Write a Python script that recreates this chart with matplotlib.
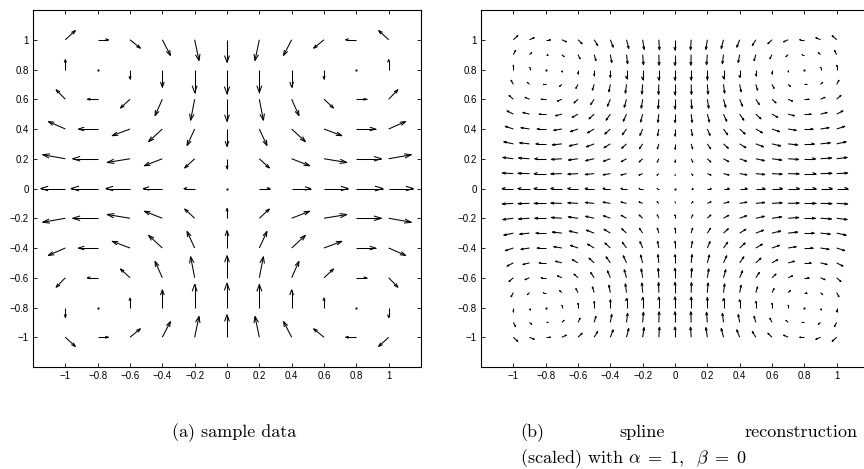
import numpy as np
import matplotlib
matplotlib.use('Agg')
import matplotlib.pyplot as plt
from matplotlib.collections import LineCollection

# sample grid (panel a) and reconstruction grid (panel b)
sample_pos = [-1.0, -0.8, -0.6, -0.4, -0.2, 0.0, 0.2, 0.4, 0.6, 0.8, 1.0]
recon_pos = [-1.0, -0.9, -0.8, -0.7, -0.6, -0.5, -0.4, -0.3, -0.2, -0.1, 0.0,
             0.1, 0.2, 0.3, 0.4, 0.5, 0.6, 0.7, 0.8, 0.9, 1.0]

# horizontal component in the quadrant x>=0, y>=0 (rows: y = 0 .. 1, cols: x = 0 .. 1),
# as drawn (already scaled, data units). The rest follows from the field's symmetry:
# u odd in x / even in y, v(x, y) = -u(y, x)
sample_u_quad = [
    [0, 0.066, 0.117, 0.149, 0.164, 0.152],
    [0, 0.062, 0.111, 0.141, 0.155, 0.140],
    [0, 0.047, 0.085, 0.110, 0.119, 0.105],
    [0, 0.025, 0.045, 0.059, 0.064, 0.057],
    [0, 0.000, 0.000, 0.000, 0.000, 0.000],
    [0, -0.027, -0.050, -0.064, -0.067, -0.062],
]

recon_u_quad = [
    [0, .011, .023, .035, .046, .056, .064, .069, .072, .072, .069],
    [0, .011, .023, .034, .045, .055, .063, .068, .071, .071, .068],
    [0, .010, .022, .033, .043, .053, .060, .065, .068, .068, .065],
    [0, .009, .020, .030, .039, .048, .054, .059, .061, .061, .059],
    [0, .008, .017, .026, .034, .041, .047, .050, .053, .053, .050],
    [0, .006, .013, .020, .026, .032, .036, .039, .041, .041, .039],
    [0, .004, .009, .014, .018, .022, .025, .027, .028, .028, .027],
    [0, .002, .005, .007, .009, .011, .013, .014, .014, .014, .014],
    [0, .000, .000, .000, .000, .000, .000, .000, .000, .000, .000],
    [0, -.002, -.005, -.007, -.009, -.011, -.013, -.014, -.014, -.014, -.014],
    [0, -.004, -.009, -.014, -.018, -.022, -.026, -.028, -.029, -.029, -.028],
]

tick_vals = [-1, -0.8, -0.6, -0.4, -0.2, 0, 0.2, 0.4, 0.6, 0.8, 1]
tick_labels = ['\u22121', '\u22120.8', '\u22120.6', '\u22120.4', '\u22120.2', '0',
               '0.2', '0.4', '0.6', '0.8', '1']


def fullField(pos, quad):
	pos = np.array(pos)
	quad = np.array(quad)
	n = len(pos)
	c = n // 2
	X, Y = np.meshgrid(pos, pos)
	U = np.zeros((n, n)); V = np.zeros((n, n))
	for j in range(n):
		for i in range(n):
			a = abs(i - c); b = abs(j - c)
			U[j, i] = np.sign(pos[i]) * quad[b][a]
			V[j, i] = -np.sign(pos[j]) * quad[a][b]
	return X, Y, U, V


def matlabQuiver(ax, X, Y, U, V, alpha=0.3, beta=0.33):
	segs = []
	for x, y, u, v in zip(X.ravel(), Y.ravel(), U.ravel(), V.ravel()):
		if u == 0 and v == 0:
			continue
		tx, ty = x + u, y + v
		segs.append([(x, y), (tx, ty)])
		segs.append([(tx - alpha * (u + beta * v), ty - alpha * (v - beta * u)), (tx, ty),
		             (tx - alpha * (u - beta * v), ty - alpha * (v + beta * u))])
	ax.add_collection(LineCollection(segs, colors='k', linewidths=0.75))
	zero = (U == 0) & (V == 0)
	ax.plot(X[zero], Y[zero], 'k.', ms=1.2)


def styleAxes(ax):
	ax.set_xlim(-1.2, 1.2)
	ax.set_ylim(-1.2, 1.2)
	ax.set_xticks(tick_vals)
	ax.set_xticklabels(tick_labels)
	ax.set_yticks(tick_vals)
	ax.set_yticklabels(tick_labels)
	ax.tick_params(direction='in', length=3, width=0.6, top=True, right=True,
	               labelsize=7, pad=3)
	for lab in ax.get_xticklabels() + ax.get_yticklabels():
		lab.set_family('Liberation Sans')
	for s in ax.spines.values():
		s.set_linewidth(0.8)


plt.rcParams['mathtext.fontset'] = 'cm'
W, H = 864, 469
fig = plt.figure(figsize=(W / 100, H / 100), dpi=100, facecolor='white')

ax1 = fig.add_axes([33 / W, 1 - 367 / H, 388 / W, 357 / H])
X, Y, U, V = fullField(sample_pos, sample_u_quad)
matlabQuiver(ax1, X, Y, U, V)
styleAxes(ax1)

ax2 = fig.add_axes([481 / W, 1 - 367 / H, 388 / W, 357 / H])
X, Y, U, V = fullField(recon_pos, recon_u_quad)
matlabQuiver(ax2, X, Y, U, V)
styleAxes(ax2)

cap = dict(fontfamily='cmr10', fontsize=13, va='baseline')
fig.text(172 / W, 1 - 437 / H, '(a) sample data', ha='left', **cap)
fig.text(520 / W, 1 - 437 / H, '(b)', ha='left', **cap)
fig.text(642 / W, 1 - 437 / H, 'spline', ha='center', **cap)
fig.text(858 / W, 1 - 437 / H, 'reconstruction', ha='right', **cap)
fig.text(520 / W, 1 - 463 / H, r'(scaled) with $\alpha\;=\;1,\ \ \beta\;=\;0$', ha='left', **cap)

fig.savefig('out.png', dpi=100, facecolor='white')
